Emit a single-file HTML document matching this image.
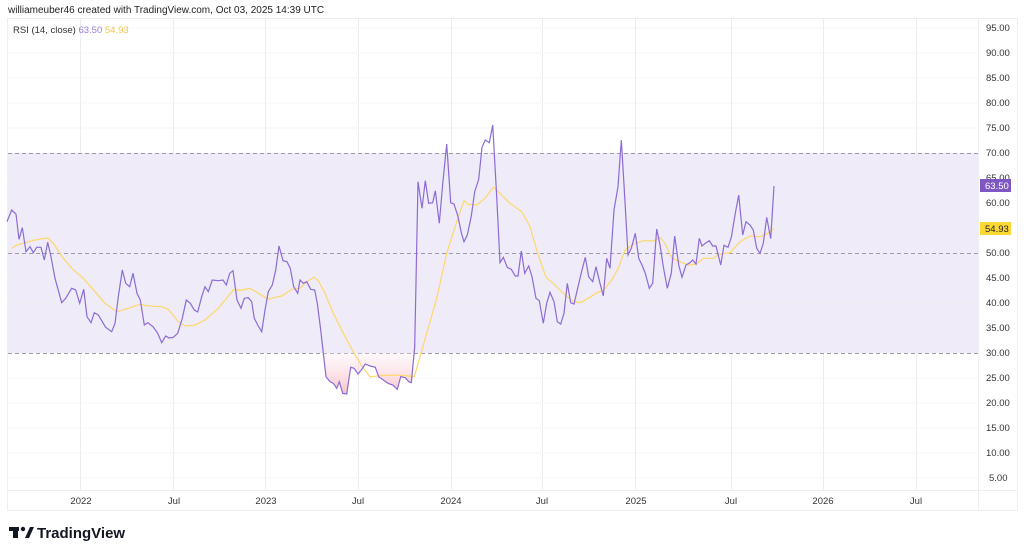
<!DOCTYPE html>
<html><head><meta charset="utf-8"><style>
body{margin:0;background:#fff;width:1024px;height:554px;overflow:hidden;font-family:"Liberation Sans",sans-serif}
</style></head><body>
<svg width="1024" height="554" xmlns="http://www.w3.org/2000/svg" font-family="Liberation Sans, sans-serif">
<defs>
<linearGradient id="pk" x1="0" y1="0" x2="0" y2="1"><stop offset="0" stop-color="#fbe9ee" stop-opacity="0.3"/><stop offset="1" stop-color="#f7b9c4"/></linearGradient>
<clipPath id="cl"><path d="M315,0 L315,303.3 L317.3,303.3 L320.7,330 L326,376.7 L330,381.7 L333.3,383.3 L336.7,388.3 L339.3,381.7 L342.7,393.3 L346.7,394 L350.7,367.3 L354,368.3 L358,374 L361.3,370 L365.3,364 L370,366 L375.3,367.3 L378.7,376.7 L383.3,380 L388,383.3 L392.7,385 L397.3,389.3 L400.7,376.7 L405.3,377.7 L408.7,381.7 L411.3,382.7 L414.7,346.7 L418,181.7 L420,0 Z"/></clipPath>
</defs>
<text x="8" y="13" font-size="10" fill="#222">williameuber46 created with TradingView.com, Oct 03, 2025 14:39 UTC</text>
<rect x="7.5" y="18.5" width="1010" height="492" fill="none" stroke="#eee"/>
<line x1="978.5" y1="18" x2="978.5" y2="510" stroke="#eee"/>
<line x1="7" y1="490.5" x2="1018" y2="490.5" stroke="#eee"/>
<rect x="8" y="153" width="970" height="200" fill="#efebf8"/>
<g stroke="#ececf2" stroke-width="1" stroke-dasharray="1,1">
<line x1="8" x2="978" y1="28" y2="28"/><line x1="8" x2="978" y1="53" y2="53"/><line x1="8" x2="978" y1="78" y2="78"/><line x1="8" x2="978" y1="103" y2="103"/><line x1="8" x2="978" y1="128" y2="128"/><line x1="8" x2="978" y1="178" y2="178"/><line x1="8" x2="978" y1="203" y2="203"/><line x1="8" x2="978" y1="228" y2="228"/><line x1="8" x2="978" y1="278" y2="278"/><line x1="8" x2="978" y1="303" y2="303"/><line x1="8" x2="978" y1="328" y2="328"/><line x1="8" x2="978" y1="378" y2="378"/><line x1="8" x2="978" y1="403" y2="403"/><line x1="8" x2="978" y1="428" y2="428"/><line x1="8" x2="978" y1="453" y2="453"/><line x1="8" x2="978" y1="478" y2="478"/>
</g>
<g stroke="#ececf2" stroke-width="1">
<line x1="80.5" x2="80.5" y1="19" y2="490"/><line x1="173.5" x2="173.5" y1="19" y2="490"/><line x1="265.5" x2="265.5" y1="19" y2="490"/><line x1="358.5" x2="358.5" y1="19" y2="490"/><line x1="451.5" x2="451.5" y1="19" y2="490"/><line x1="542.5" x2="542.5" y1="19" y2="490"/><line x1="635.5" x2="635.5" y1="19" y2="490"/><line x1="731.5" x2="731.5" y1="19" y2="490"/><line x1="823.5" x2="823.5" y1="19" y2="490"/><line x1="916.5" x2="916.5" y1="19" y2="490"/>
</g>
<g stroke="#9e9aa8" stroke-dasharray="4,3"><line x1="8" x2="978" y1="153.5" y2="153.5"/><line x1="8" x2="978" y1="253.5" y2="253.5"/><line x1="8" x2="978" y1="353.5" y2="353.5"/></g>
<g clip-path="url(#cl)"><rect x="310" y="353" width="115" height="45" fill="url(#pk)"/></g>
<polyline fill="none" stroke="#fdd86b" stroke-width="1.2" points="11.7,248.3 16.7,245 25,242.7 35,240 41.7,238.7 48.3,238.3 53.3,243.3 63.3,258.3 71.7,268.3 83.3,278.3 95,291.7 105,303.3 116.7,311.7 128.3,308.3 140,304.3 148.3,306 161.7,306.7 168.3,309.3 178.3,321.7 185,326 195,325 205,320 218.3,308.3 233.3,290 241.7,290 250,288.3 258.3,293.3 268.3,299.3 275,297.3 281.7,296 291.7,289.3 300,288.3 306.7,281.7 314,277.3 318.3,280.7 325,293.3 333.3,313.3 343.3,333.3 353.3,351.7 361.7,366 370,376.7 380,375.7 396.7,375 406.7,375.7 414.3,376.7 420,356.7 426.7,333.3 436.7,298.3 446.7,253.3 456.7,221.7 464,200.7 468.3,204.3 476.7,205 485,198.3 493.3,187.3 500,193.3 510,203.3 521.7,211.7 530,226.7 536.7,250 543.3,270 546.7,278.3 553.3,283.3 563.3,293.3 573.3,301.7 580,302.7 588.3,298.3 596.7,292.7 603.3,290.7 611.7,280 618.3,268.3 625,250 633.3,244 643.3,240.7 653.3,241 660,237.3 665,243.3 671.7,258.3 680,261.7 688.3,265 696.7,264 703.3,258.3 713.3,258.3 720,254 730,252.7 740,241.7 750,236 760,236.7 766.7,234 774,228.7"/>
<polyline fill="none" stroke="#8c6bd6" stroke-width="1.2" points="7,221.7 11.7,210 16,214 19,239.3 22.3,227.7 26,251.7 30,246.7 33.3,252.7 36.7,247.3 41,247.3 44.3,260 47.7,242.3 51,256.7 55,278.3 61.7,302.7 65.7,298.3 71.7,288.3 75.7,290 79.7,303.3 83.7,289.3 87,316.7 91,322.7 94.3,312.7 98.3,315 102.3,321.7 105.7,327.3 111.7,331.7 115,323.3 118.3,296.7 122.3,270 125.7,283.3 129.7,286.7 133,273.3 137,293.3 140.3,300 144.3,325 147.7,322.7 153,326.7 157.7,333.3 161.7,342.7 165.7,336 169,338 173.3,337.3 177.7,333.3 182.3,318.3 186.3,300 190.3,303.3 194.3,310 197.7,312 201.7,296.7 205,286.7 208.3,291.7 212.3,280 218.3,280.7 223,280 226.3,285 229.7,273.3 233,270.7 237,300 241,308.3 244.3,298.3 248.3,297.7 251.7,301.7 254.3,318.3 257.7,325 261.7,331.7 265,310 268.3,291.7 272.3,285 275.7,270 279,246 283,260.7 287,261.7 290.3,268.3 293.7,286.7 297.7,293.3 300,280 303.3,283.3 306.7,281.7 310.7,289.3 314.7,290 317.3,303.3 320.7,330 326,376.7 330,381.7 333.3,383.3 336.7,388.3 339.3,381.7 342.7,393.3 346.7,394 350.7,367.3 354,368.3 358,374 361.3,370 365.3,364 370,366 375.3,367.3 378.7,376.7 383.3,380 388,383.3 392.7,385 397.3,389.3 400.7,376.7 405.3,377.7 408.7,381.7 411.3,382.7 414.7,346.7 418,181.7 422,208.3 425.3,180.7 428.7,203.3 432.7,202.7 435.3,190.7 439.3,223.3 442.7,184 446.7,144 450.7,202.7 454,204 458,216.7 461.3,232.7 464,241.7 467.3,235 471.3,216 474.7,191.7 478.7,179.3 482,147.3 485.3,140 489.3,142.7 492.7,125 496.7,196.7 500,262.7 503.3,257.3 507.3,267.3 511.3,269.3 515.3,276 518,276 521.3,251 524.7,273.3 528.7,266 532,276.7 536,298.3 539.3,300.7 543.3,323.3 546.7,303.3 550,292.3 554,301.7 557.3,321.7 560.7,324 564,313.3 567.3,283.3 570.7,302.7 574,304 578,286.7 582,270 585.3,257.3 588.7,276.7 592.7,281.7 596,266.7 600,283.3 603.3,296 606.7,258.3 610,268.3 614,210 618,186.7 621.3,140 624.7,196.7 628,255 631.3,248.3 635.3,233.3 638.7,258.3 642,265 645.3,273.3 649.3,288.3 652.7,283.3 656.7,229 660,245 663.3,266.7 667.3,288.3 671.3,273.3 674.7,236 678.7,265 682,277.3 686,265 690,262.7 692.7,260 696,264 699.3,238.3 702,246 705.3,243.3 709.3,240.7 712.7,246 716,246 720.7,265 724,245.3 728,247.3 731.3,237.3 735.3,213.3 738.7,195 742.7,235 746,221.7 750,225 753.3,230 756.7,248.3 760,253.3 763.3,243.3 766.7,217.3 770.7,238.7 774,186"/>
<text x="13" y="33" font-size="9.5" fill="#333">RSI (14, close) <tspan fill="#9b7fd8">63.50</tspan> <tspan fill="#f5c842">54.93</tspan></text>
<g font-size="9.5" fill="#333">
<text x="986" y="31">95.00</text><text x="986" y="56">90.00</text><text x="986" y="81">85.00</text><text x="986" y="106">80.00</text><text x="986" y="131">75.00</text><text x="986" y="156">70.00</text><text x="986" y="181">65.00</text><text x="986" y="206">60.00</text><text x="986" y="256">50.00</text><text x="986" y="281">45.00</text><text x="986" y="306">40.00</text><text x="986" y="331">35.00</text><text x="986" y="356">30.00</text><text x="986" y="381">25.00</text><text x="986" y="406">20.00</text><text x="986" y="431">15.00</text><text x="986" y="456">10.00</text><text x="989" y="481">5.00</text>
</g>
<rect x="980" y="179" width="31" height="13" fill="#7e57c2"/><text x="985" y="189" font-size="9.5" fill="#fff">63.50</text>
<rect x="980" y="222" width="31" height="13" fill="#fdd835"/><text x="985" y="232" font-size="9.5" fill="#222">54.93</text>
<g font-size="9.5" fill="#333" text-anchor="middle">
<text x="81" y="504">2022</text><text x="174" y="504">Jul</text><text x="266" y="504">2023</text><text x="358" y="504">Jul</text><text x="451" y="504">2024</text><text x="542" y="504">Jul</text><text x="636" y="504">2025</text><text x="731" y="504">Jul</text><text x="823" y="504">2026</text><text x="916" y="504">Jul</text>
</g>
<g fill="#131722"><rect x="9" y="527" width="10" height="4"/><rect x="13" y="527" width="5" height="11"/><circle cx="23" cy="529" r="2.2"/><path d="M25,538 L30,527 L34,527 L29,538 Z"/></g>
<text x="37" y="538" font-size="15" font-weight="bold" fill="#131722">TradingView</text>
</svg>
</body></html>
